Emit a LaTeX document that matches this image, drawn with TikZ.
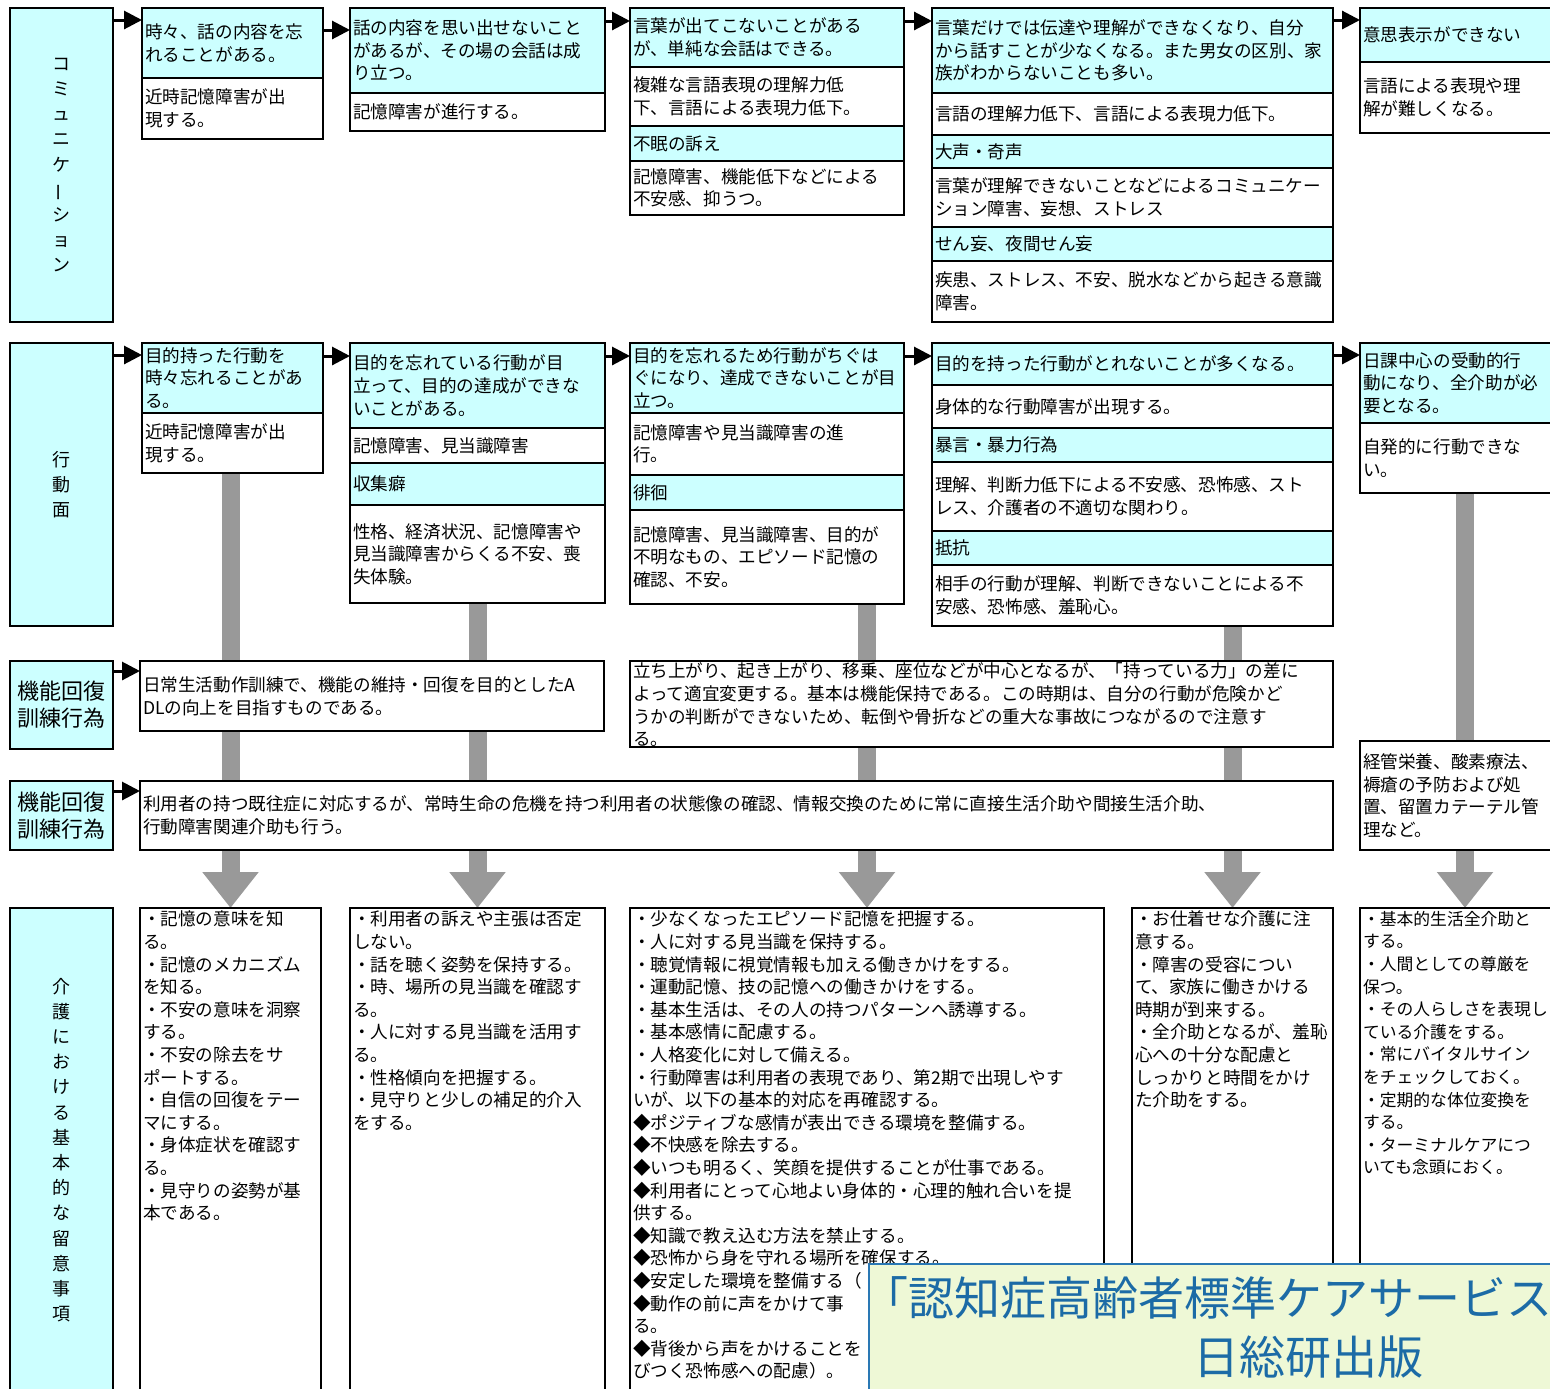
\documentclass[tikz,border=0pt]{standalone}
\usepackage{fontspec}
\setmainfont{Noto Sans CJK JP}
\usepackage{graphicx}
\usetikzlibrary{arrows.meta,calc}
\newdimen\pxu \pxu=0.5pt
\definecolor{cyanfill}{HTML}{CCFFFF}
\definecolor{barg}{HTML}{999999}
\definecolor{ovfill}{HTML}{EEF8D6}
\definecolor{ovline}{HTML}{2A78B4}
\definecolor{ovtext}{HTML}{1C6BA6}
\newcommand\cellfont{\fontsize{8.8pt}{11.3pt}\selectfont}
\newcommand\smallcellfont{\fontsize{8.4pt}{11.3pt}\selectfont}
\newcommand\vlabfont{\fontsize{9pt}{12.6pt}\selectfont}
\newcommand\hlabfont{\fontsize{11pt}{13.5pt}\selectfont}
\newcommand\myvbar{\rotatebox[origin=c]{90}{ー}}
\tikzset{
  cellbox/.style={draw=black, line width=0.75pt, inner xsep=1.5pt, inner ysep=0pt, outer sep=0pt, font=\cellfont},
  cyanc/.style={fill=cyanfill},
  whitec/.style={fill=white},
  blk/.style={line width=1.5pt, -{Triangle[length=9pt,width=9pt]}},
  graybar/.style={draw=barg, line width=9pt, -{Triangle[length=18pt,width=27pt]}},
}
\pgfdeclarelayer{background}
\pgfsetlayers{background,main}
% name, x, y, w, h, style, valign, text
\newcommand\cell[8]{\node[cellbox,#6,anchor=north west] (#1) at (#2,#3) {\parbox[c][#5\pxu][#7]{\dimexpr#4\pxu-6\pxu\relax}{#8}};}
\begin{document}
\begin{tikzpicture}[x=0.5pt,y=-0.5pt]
\useasboundingbox (0,0) rectangle (1550,1388);
\begin{pgfonlayer}{background}
\fill[white] (0,0) rectangle (1550,1388);
\end{pgfonlayer}
\clip (0,0) rectangle (1550,1388);

% ---- labels ----
\cell{lab1}{10}{8}{103}{314}{cyanc}{c}{\centering\vlabfont コ\\ミ\\ュ\\ニ\\ケ\\ \myvbar\\シ\\ョ\\ン}
\cell{lab2}{10}{343}{103}{283}{cyanc}{c}{\centering\vlabfont 行\\動\\面}
\cell{lab3}{10}{661}{103}{88}{cyanc}{c}{\centering\hlabfont 機能回復\\訓練行為}
\cell{lab4}{10}{781}{103}{69}{cyanc}{c}{\centering\hlabfont 機能回復\\訓練行為}
\cell{lab5}{10}{908}{103}{484}{cyanc}{c}{\centering\vlabfont 介\\護\\に\\お\\け\\る\\基\\本\\的\\な\\留\\意\\事\\項}

% ---- row 1 ----
\cell{c11a}{142}{8}{181}{70}{cyanc}{c}{時々、話の内容を忘\\れることがある。}
\cell{c11b}{142}{78}{181}{61}{whitec}{c}{近時記憶障害が出\\現する。}
\cell{c12a}{350}{8}{255}{85}{cyanc}{c}{話の内容を思い出せないこと\\があるが、その場の会話は成\\り立つ。}
\cell{c12b}{350}{93}{255}{38}{whitec}{c}{記憶障害が進行する。}
\cell{c13a}{630}{8}{274}{59}{cyanc}{c}{言葉が出てこないことがある\\が、単純な会話はできる。}
\cell{c13b}{630}{67}{274}{59}{whitec}{c}{複雑な言語表現の理解力低\\下、言語による表現力低下。}
\cell{c13c}{630}{126}{274}{35}{cyanc}{c}{不眠の訴え}
\cell{c13d}{630}{161}{274}{54}{whitec}{c}{記憶障害、機能低下などによる\\不安感、抑うつ。}
\cell{c14a}{932}{8}{401}{85}{cyanc}{c}{言葉だけでは伝達や理解ができなくなり、自分\\から話すことが少なくなる。また男女の区別、家\\族がわからないことも多い。}
\cell{c14b}{932}{93}{401}{42}{whitec}{c}{言語の理解力低下、言語による表現力低下。}
\cell{c14c}{932}{135}{401}{33}{cyanc}{c}{大声・奇声}
\cell{c14d}{932}{168}{401}{59}{whitec}{c}{言葉が理解できないことなどによるコミュニケー\\ション障害、妄想、ストレス}
\cell{c14e}{932}{227}{401}{34}{cyanc}{c}{せん妄、夜間せん妄}
\cell{c14f}{932}{261}{401}{61}{whitec}{c}{疾患、ストレス、不安、脱水などから起きる意識\\障害。}
\cell{c15a}{1360}{8}{210}{54}{cyanc}{c}{意思表示ができない}
\cell{c15b}{1360}{62}{210}{71}{whitec}{c}{言語による表現や理\\解が難しくなる。}

% ---- row 2 ----
\cell{c21a}{142}{343}{181}{70}{cyanc}{c}{目的持った行動を\\時々忘れることがあ\\る。}
\cell{c21b}{142}{413}{181}{60}{whitec}{c}{近時記憶障害が出\\現する。}
\cell{c22a}{350}{343}{255}{85}{cyanc}{c}{目的を忘れている行動が目\\立って、目的の達成ができな\\いことがある。}
\cell{c22b}{350}{428}{255}{35}{whitec}{c}{記憶障害、見当識障害}
\cell{c22c}{350}{463}{255}{42}{cyanc}{c}{収集癖}
\cell{c22d}{350}{505}{255}{98}{whitec}{c}{性格、経済状況、記憶障害や\\見当識障害からくる不安、喪\\失体験。}
\cell{c23a}{630}{343}{274}{70}{cyanc}{c}{目的を忘れるため行動がちぐは\\ぐになり、達成できないことが目\\立つ。}
\cell{c23b}{630}{413}{274}{62}{whitec}{c}{記憶障害や見当識障害の進\\行。}
\cell{c23c}{630}{475}{274}{35}{cyanc}{c}{徘徊}
\cell{c23d}{630}{510}{274}{94}{whitec}{c}{記憶障害、見当識障害、目的が\\不明なもの、エピソード記憶の\\確認、不安。}
\cell{c24a}{932}{343}{401}{42}{cyanc}{c}{目的を持った行動がとれないことが多くなる。}
\cell{c24b}{932}{385}{401}{43}{whitec}{c}{身体的な行動障害が出現する。}
\cell{c24c}{932}{428}{401}{34}{cyanc}{c}{暴言・暴力行為}
\cell{c24d}{932}{462}{401}{69}{whitec}{c}{理解、判断力低下による不安感、恐怖感、スト\\レス、介護者の不適切な関わり。}
\cell{c24e}{932}{531}{401}{34}{cyanc}{c}{抵抗}
\cell{c24f}{932}{565}{401}{61}{whitec}{c}{相手の行動が理解、判断できないことによる不\\安感、恐怖感、羞恥心。}
\cell{c25a}{1360}{343}{210}{80}{cyanc}{c}{日課中心の受動的行\\動になり、全介助が必\\要となる。}
\cell{c25b}{1360}{423}{210}{70}{whitec}{c}{自発的に行動できな\\い。}

% ---- rows 3 and 4 ----
\cell{r3a}{140}{661}{464}{70}{whitec}{c}{日常生活動作訓練で、機能の維持・回復を目的としたA\\DLの向上を目指すものである。}
\cell{r3b}{630}{661}{703}{86}{whitec}{t}{\vspace*{1pt}立ち上がり、起き上がり、移乗、座位などが中心となるが、「持っている力」の差に\\よって適宜変更する。基本は機能保持である。この時期は、自分の行動が危険かど\\うかの判断ができないため、転倒や骨折などの重大な事故につながるので注意す\\る。}
\cell{r5c}{1360}{741}{210}{109}{whitec}{c}{経管栄養、酸素療法、\\褥瘡の予防および処\\置、留置カテーテル管\\理など。}
\cell{r4}{140}{781}{1193}{69}{whitec}{c}{利用者の持つ既往症に対応するが、常時生命の危機を持つ利用者の状態像の確認、情報交換のために常に直接生活介助や間接生活介助、\\行動障害関連介助も行う。}

% ---- bottom row ----
\cell{k1}{140}{908}{181}{490}{whitec}{t}{\vspace*{1.5pt}・記憶の意味を知\\る。\\・記憶のメカニズム\\を知る。\\・不安の意味を洞察\\する。\\・不安の除去をサ\\ポートする。\\・自信の回復をテー\\マにする。\\・身体症状を確認す\\る。\\・見守りの姿勢が基\\本である。}
\cell{k2}{350}{908}{255}{490}{whitec}{t}{\vspace*{1.5pt}・利用者の訴えや主張は否定\\しない。\\・話を聴く姿勢を保持する。\\・時、場所の見当識を確認す\\る。\\・人に対する見当識を活用す\\る。\\・性格傾向を把握する。\\・見守りと少しの補足的介入\\をする。}
\cell{k3}{630}{908}{474}{490}{whitec}{t}{\vspace*{1.5pt}・少なくなったエピソード記憶を把握する。\\・人に対する見当識を保持する。\\・聴覚情報に視覚情報も加える働きかけをする。\\・運動記憶、技の記憶への働きかけをする。\\・基本生活は、その人の持つパターンへ誘導する。\\・基本感情に配慮する。\\・人格変化に対して備える。\\・行動障害は利用者の表現であり、第2期で出現しやす\\いが、以下の基本的対応を再確認する。\\◆ポジティブな感情が表出できる環境を整備する。\\◆不快感を除去する。\\◆いつも明るく、笑顔を提供することが仕事である。\\◆利用者にとって心地よい身体的・心理的触れ合いを提\\供する。\\◆知識で教え込む方法を禁止する。\\◆恐怖から身を守れる場所を確保する。\\◆安定した環境を整備する（\\◆動作の前に声をかけて事\\る。\\◆背後から声をかけることを\\びつく恐怖感への配慮）。}
\cell{k4}{1132}{908}{201}{490}{whitec}{t}{\vspace*{1.5pt}・お仕着せな介護に注\\意する。\\・障害の受容につい\\て、家族に働きかける\\時期が到来する。\\・全介助となるが、羞恥\\心への十分な配慮と\\しっかりと時間をかけ\\た介助をする。}
\cell{k5}{1360}{908}{210}{490}{whitec}{t}{\smallcellfont\vspace*{1.5pt}・基本的生活全介助と\\する。\\・人間としての尊厳を\\保つ。\\・その人らしさを表現し\\ている介護をする。\\・常にバイタルサイン\\をチェックしておく。\\・定期的な体位変換を\\する。\\・ターミナルケアにつ\\いても念頭におく。}

% ---- black arrows ----
\coordinate (a1) at ($(lab1.north east)+(0,12)$);
\draw[blk] (a1) -- (a1 -| c11a.west);
\coordinate (a2) at ($(c11a.north east)+(0,22)$);
\draw[blk] (a2) -- (a2 -| c12a.west);
\coordinate (a3) at ($(c12a.north east)+(0,13)$);
\draw[blk] (a3) -- (a3 -| c13a.west);
\coordinate (a4) at ($(c13a.north east)+(0,13)$);
\draw[blk] (a4) -- (a4 -| c14a.west);
\coordinate (a5) at ($(c14a.north east)+(0,12)$);
\draw[blk] (a5) -- (a5 -| c15a.west);

\coordinate (b1) at ($(lab2.north east)+(0,12)$);
\draw[blk] (b1) -- (b1 -| c21a.west);
\coordinate (b2) at ($(c21a.north east)+(0,13)$);
\draw[blk] (b2) -- (b2 -| c22a.west);
\coordinate (b3) at ($(c22a.north east)+(0,13)$);
\draw[blk] (b3) -- (b3 -| c23a.west);
\coordinate (b4) at ($(c23a.north east)+(0,13)$);
\draw[blk] (b4) -- (b4 -| c24a.west);
\coordinate (b5) at ($(c24a.north east)+(0,12)$);
\draw[blk] (b5) -- (b5 -| c25a.west);

\coordinate (d1) at ($(lab3.north east)+(0,10)$);
\draw[blk] (d1) -- (d1 -| r3a.west);
\coordinate (e1) at ($(lab4.north east)+(0,10)$);
\draw[blk] (e1) -- (e1 -| r4.west);

% ---- gray bars (behind boxes) ----
\begin{pgfonlayer}{background}
\draw[graybar] (c21b.south -| k1.north) -- (k1.north);
\draw[graybar] (c22d.south -| k2.north) -- (k2.north);
\draw[graybar] (c23d.south -| k3.north) -- (k3.north);
\draw[graybar] (c24f.south -| k4.north) -- (k4.north);
\draw[graybar] (c25b.south -| k5.north) -- (k5.north);
\end{pgfonlayer}

% ---- overlay ----
\node[draw=ovline, line width=1pt, fill=ovfill, anchor=north west, minimum width=360pt, minimum height=72pt, inner sep=0pt] (ov) at (868,1263) {};
\node[anchor=west, text=ovtext, font=\fontsize{23pt}{23pt}\selectfont, inner sep=0pt] (ovt1) at (862,1298) {「認知症高齢者標準ケアサービス};
\node[anchor=center, text=ovtext, font=\fontsize{23pt}{23pt}\selectfont, inner sep=0pt] (ovt2) at (1308,1357) {日総研出版};
\end{tikzpicture}
\end{document}
